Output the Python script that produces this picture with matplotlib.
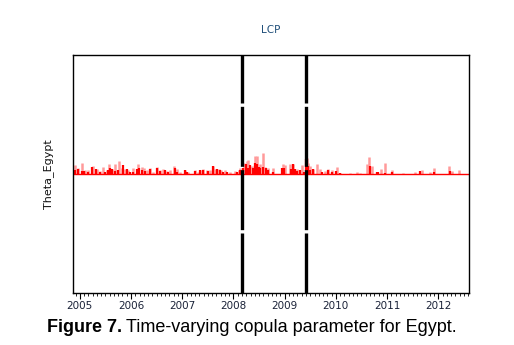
import matplotlib
matplotlib.use('Agg')
import matplotlib.pyplot as plt
import numpy as np

# spike dates (decimal years) and heights of the theta series
pink_dates = [2004.906, 2004.97, 2005.037, 2005.10, 2005.166, 2005.25, 2005.33, 2005.39,
              2005.46, 2005.526, 2005.57, 2005.62, 2005.69, 2005.77, 2005.82, 2005.88,
              2005.95, 2006.045, 2006.14, 2006.21, 2006.255, 2006.31, 2006.37, 2006.436,
              2006.50, 2006.567, 2006.632, 2006.70, 2006.76, 2006.84, 2006.89, 2006.96,
              2007.056, 2007.12, 2007.25, 2007.316, 2007.38, 2007.41, 2007.48, 2007.54,
              2007.61, 2007.64, 2007.71, 2007.75, 2007.84, 2007.935, 2008.03, 2008.10,
              2008.13, 2008.21, 2008.26, 2008.29, 2008.36, 2008.42, 2008.457, 2008.52,
              2008.57, 2008.62, 2008.68, 2008.78, 2008.977, 2009.01, 2009.11, 2009.17,
              2009.24, 2009.336, 2009.43, 2009.465, 2009.50, 2009.56, 2009.63, 2009.694,
              2009.79, 2009.856, 2009.92, 2010.02, 2010.085, 2010.28, 2010.41, 2010.476,
              2010.606, 2010.65, 2010.70, 2010.80, 2010.88, 2010.964, 2011.095, 2011.32,
              2011.55, 2011.68, 2011.844, 2011.91, 2012.20, 2012.27, 2012.40]
pink_vals = [0.076, 0.05, 0.092, 0.034, 0.034, 0.067, 0.042, 0.025,
             0.059, 0.034, 0.084, 0.042, 0.084, 0.109, 0.05, 0.042,
             0.034, 0.05, 0.084, 0.059, 0.05, 0.034, 0.05, 0.017,
             0.059, 0.034, 0.042, 0.025, 0.034, 0.067, 0.042, 0.017,
             0.034, 0.017, 0.034, 0.017, 0.034, 0.042, 0.034, 0.034,
             0.067, 0.042, 0.042, 0.034, 0.034, 0.017, 0.025, 0.034,
             0.05, 0.092, 0.109, 0.118, 0.067, 0.151, 0.151, 0.084,
             0.176, 0.059, 0.05, 0.05, 0.084, 0.076, 0.084, 0.084,
             0.042, 0.076, 0.134, 0.092, 0.067, 0.042, 0.084, 0.042,
             0.025, 0.042, 0.034, 0.059, 0.01, 0.01, 0.017, 0.01,
             0.084, 0.143, 0.067, 0.017, 0.042, 0.092, 0.034, 0.01,
             0.017, 0.034, 0.017, 0.05, 0.067, 0.025, 0.034]

red_dates = [2004.906, 2004.97, 2005.04, 2005.08, 2005.166, 2005.244, 2005.316, 2005.39,
             2005.49, 2005.557, 2005.59, 2005.635, 2005.69, 2005.752, 2005.85, 2005.916,
             2005.98, 2006.045, 2006.11, 2006.163, 2006.21, 2006.274, 2006.37, 2006.50,
             2006.567, 2006.665, 2006.73, 2006.86, 2006.905, 2007.056, 2007.09, 2007.25,
             2007.35, 2007.41, 2007.51, 2007.61, 2007.675, 2007.74, 2007.80, 2007.87,
             2008.066, 2008.12, 2008.195, 2008.248, 2008.29, 2008.326, 2008.38, 2008.424,
             2008.457, 2008.49, 2008.52, 2008.586, 2008.64, 2008.68, 2008.78, 2008.945,
             2008.99, 2009.12, 2009.17, 2009.205, 2009.25, 2009.303, 2009.37, 2009.42,
             2009.453, 2009.50, 2009.56, 2009.73, 2009.856, 2009.92, 2010.006, 2010.085,
             2010.67, 2010.80, 2010.83, 2010.964, 2011.095, 2011.65, 2011.91, 2012.235]
red_vals = [0.034, 0.042, 0.025, 0.025, 0.017, 0.059, 0.042, 0.017,
            0.017, 0.034, 0.05, 0.042, 0.025, 0.034, 0.076, 0.042,
            0.017, 0.017, 0.042, 0.05, 0.034, 0.025, 0.042, 0.05,
            0.025, 0.034, 0.017, 0.05, 0.017, 0.034, 0.017, 0.025,
            0.034, 0.034, 0.025, 0.067, 0.042, 0.034, 0.017, 0.017,
            0.017, 0.034, 0.05, 0.084, 0.05, 0.076, 0.05, 0.092,
            0.084, 0.059, 0.05, 0.059, 0.05, 0.034, 0.017, 0.05,
            0.05, 0.042, 0.084, 0.042, 0.025, 0.034, 0.017, 0.126,
            0.067, 0.034, 0.042, 0.017, 0.034, 0.017, 0.025, 0.01,
            0.067, 0.017, 0.017, 0.01, 0.017, 0.025, 0.017, 0.025]

years = [2005, 2006, 2007, 2008, 2009, 2010, 2011, 2012]
breaks = [2008.17, 2009.42]


def main():
    fig = plt.figure(figsize=(5.14, 3.45), dpi=100)
    ax = fig.add_axes([0.142, 0.1507, 0.7705, 0.690])

    x0, x1 = 2004.867, 2012.6
    ax.vlines(pink_dates, 0, pink_vals, color='#ff9a9a', lw=1.8)
    ax.vlines(red_dates, 0, red_vals, color='#ff0000', lw=1.6)
    ax.plot([x0, x1], [0, 0], color='#ff0000', lw=1.0)

    for b in breaks:
        ax.axvline(b, color='black', lw=2.4, dashes=(18, 1.0))

    ax.set_xlim(x0, x1)
    ax.set_ylim(-1, 1)
    ax.set_yticks([])
    ax.set_xticks(years)
    ax.set_xticklabels([str(y) for y in years], fontsize=7.5, color='#1a2238')
    ax.set_xticks(np.arange(2004.917, x1, 1 / 12.0), minor=True)
    ax.tick_params(axis='x', which='major', direction='out', length=4, width=0.8, pad=2)
    ax.tick_params(axis='x', which='minor', direction='out', length=2, width=0.6)
    # nudge first label inside like the original
    ax.get_xticklabels()[0].set_x(2005.06)
    for s in ax.spines.values():
        s.set_linewidth(1.0)
        s.set_color('black')

    ax.set_ylabel('Theta_Egypt', fontsize=8, labelpad=14, color='#111111')
    fig.text(0.527, 0.913, 'LCP', ha='center', va='center', fontsize=7.5, color='#1f4e79')

    fam = 'Liberation Sans'
    t1 = fig.text(0.092, 0.052, 'Figure 7.', fontsize=13, fontweight='bold',
                  family=fam, ha='left', va='center')
    fig.canvas.draw()
    bb = t1.get_window_extent()
    fig.text((bb.x1 + 4) / fig.bbox.width, 0.052, 'Time-varying copula parameter for Egypt.',
             fontsize=13, family=fam, ha='left', va='center')

    fig.savefig('out.png', dpi=100)


main()
